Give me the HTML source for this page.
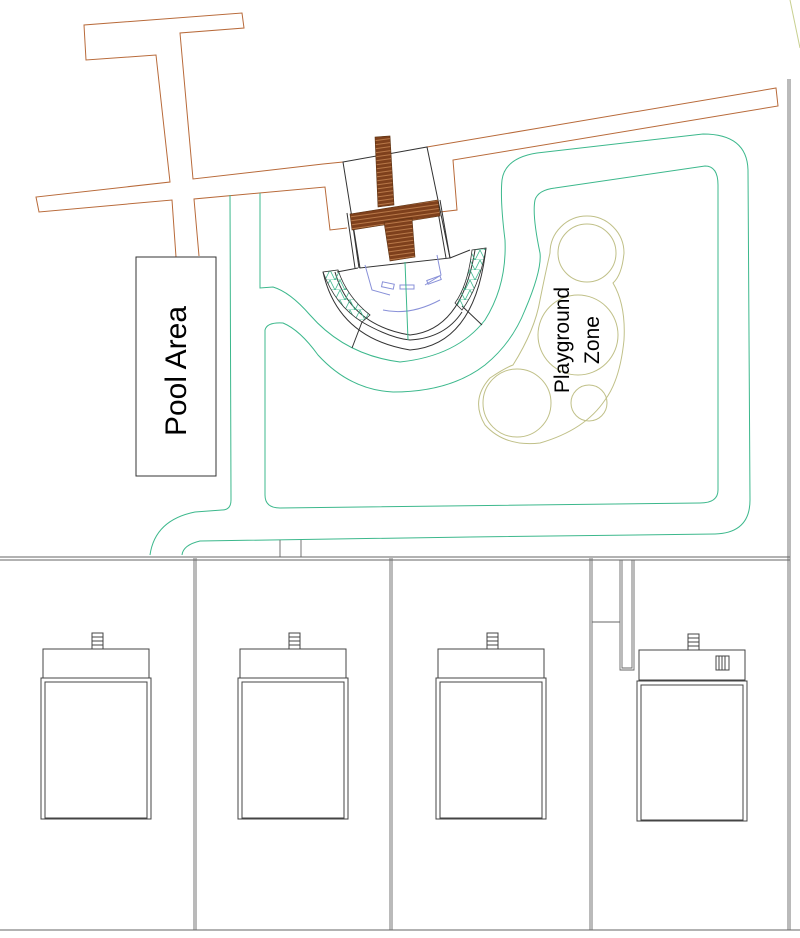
<!DOCTYPE html>
<html><head><meta charset="utf-8"><style>
html,body{margin:0;padding:0;background:#fff;width:800px;height:938px;overflow:hidden}
svg{display:block}
</style></head><body>
<svg width="800" height="938" viewBox="0 0 800 938" xmlns="http://www.w3.org/2000/svg">
<defs>
<pattern id="wood" width="6" height="4" patternUnits="userSpaceOnUse" patternTransform="rotate(-8)">
<rect width="6" height="4" fill="#7e401c"/><rect y="3" width="6" height="1" fill="#b87848"/>
</pattern>
<pattern id="tri" width="10" height="10" patternUnits="userSpaceOnUse">
<path d="M0,0 L5,10 L10,0 M0,10 L10,10" stroke="#3cb88c" stroke-width="0.8" fill="none"/>
</pattern>
</defs>
<g fill="none" stroke="#b86a3a" stroke-width="1">
<polyline points="176,257 172,200 39,212 36,197 170,182 156,55 86,60 84,25 242,13 244,28 180,33 193,179 323,164 343,162"/>
<polyline points="199,256 194,199 325,187 330,230 347,228"/>
<polyline points="427,147 776,88 778,106 453,160 457,210 440,212"/>
</g>
<rect x="136" y="257" width="80" height="219" fill="none" stroke="#333" stroke-width="1"/>
<text x="0" y="0" transform="translate(186,371) rotate(-90)" text-anchor="middle" font-family="Liberation Sans, sans-serif" font-size="30" fill="#000">Pool Area</text>
<g fill="none" stroke="#3cb88c" stroke-width="1">
<path d="M230,195 L231,500 Q231,510 222,510 L195,512 Q155,520 150,555"/>
<path d="M260,193 L260,288 L273,287 Q290,292 310,315 Q345,355 400,362 Q457,356 485,320 Q507,285 505,240 Q500,200 502,180 Q505,158 537,153 L703,134 Q747,134 748,170 L750,500 Q750,533 715,534 L470,537 L200,541 Q183,545 182,555"/>
<path d="M265,330 Q267,322 283,323 Q300,330 318,355 Q350,390 393,392 Q450,392 485,365 Q512,343 525,310 Q542,270 540,253 Q532,215 535,200 Q538,190 555,188 L705,166 Q718,166 718,185 L718,490 Q718,503 700,503 L280,508 Q265,508 265,495 Z"/>
<line x1="790" y1="0" x2="800" y2="48" stroke="#c8d090"/>
</g>
<g fill="none" stroke="#333" stroke-width="1">
<path d="M343,162 L427,147 L450,258 L360,268 Z"/>
<path d="M347,213 L355,268 M351,213 L359,268 M436,200 L446,258 M440,200 L450,258"/>
<path d="M323,272 Q338,338 410,350 Q475,345 486,248"/>
<path d="M335,272 Q350,325 410,335 Q462,330 475,250"/>
<path d="M362,322 Q390,338 410,340 Q445,338 462,312"/>
<path d="M352,348 L362,322 M482,325 L462,306 M337,272 L358,268 M470,250 L450,258"/>
</g>
<path d="M323,272 Q335,305 362,322 L370,315 Q347,297 338,270 Z" fill="url(#tri)" stroke="#333" stroke-width="0.8"/>
<path d="M486,248 Q480,285 462,310 L455,303 Q468,285 472,250 Z" fill="url(#tri)" stroke="#333" stroke-width="0.8"/>
<g fill="none" stroke="#8890d8" stroke-width="1">
<path d="M365,265 L372,290 L390,295 M437,255 L441,275 L425,285"/>
<rect x="382" y="283" width="12" height="5" transform="rotate(12 388 285)"/>
<rect x="400" y="285" width="14" height="4"/>
<rect x="427" y="278" width="14" height="4" transform="rotate(-20 434 280)"/>
<path d="M383,310 Q410,316 440,300"/>
<line x1="405" y1="262" x2="408" y2="340" stroke="#3cb88c"/>
</g>
<polygon points="375,137 390,136 394,205 378,207" fill="url(#wood)" stroke="#5a3010" stroke-width="0.6"/>
<polygon points="350,214 438,200 440,216 352,230" fill="url(#wood)" stroke="#5a3010" stroke-width="0.6"/>
<polygon points="384,222 412,218 415,257 390,261" fill="url(#wood)" stroke="#5a3010" stroke-width="0.6"/>
<g fill="none" stroke="#c0c088" stroke-width="1">
<path d="M550,253 A37,37 0 0 1 624,253 Q622,275 613,283 Q626,305 624,340 Q620,380 605,400 Q585,430 540,443 Q505,447 485,425 Q470,400 490,378 Q505,368 513,365 Q535,330 540,300 Q545,275 550,253 Z"/>
<circle cx="587" cy="253" r="29"/>
<circle cx="578" cy="335" r="40"/>
<circle cx="517" cy="403" r="34"/>
<circle cx="589" cy="403" r="18"/>
</g>
<g font-family="Liberation Sans, sans-serif" font-size="21" fill="#000" text-anchor="middle">
<text transform="translate(569,340) rotate(-90)">Playground</text>
<text transform="translate(599,340) rotate(-90)">Zone</text>
</g>
<g fill="none" stroke="#666" stroke-width="0.9">
<line x1="0" y1="557" x2="790" y2="557"/>
<line x1="0" y1="560" x2="790" y2="560"/>
<line x1="0" y1="930" x2="800" y2="930"/>
<line x1="788" y1="79" x2="788" y2="930"/>
<line x1="790" y1="79" x2="790" y2="930"/>
<line x1="194" y1="558" x2="194" y2="930"/><line x1="196" y1="558" x2="196" y2="930"/>
<line x1="390" y1="558" x2="390" y2="930"/><line x1="392" y1="558" x2="392" y2="930"/>
<line x1="590" y1="558" x2="590" y2="930"/><line x1="592" y1="558" x2="592" y2="930"/>
<line x1="280" y1="540" x2="280" y2="557"/><line x1="301" y1="540" x2="301" y2="557"/>
<path d="M620,560 L620,670 L634,670 L634,560 M622,560 L622,668 L632,668 L632,560"/>
<path d="M592,622 L620,622"/>
</g>
<g fill="none" stroke="#444" stroke-width="1">
<g id="h">
<rect x="92" y="633" width="11" height="16"/>
<path d="M92,637 H103 M92,641 H103 M92,645 H103"/>
<rect x="43" y="649" width="106" height="29"/>
<rect x="41" y="678" width="110" height="141"/>
<rect x="45" y="682" width="102" height="136"/>
</g>
<use href="#h" x="197"/>
<use href="#h" x="395"/>
<g transform="translate(596,1)"><rect x="92" y="633" width="11" height="16"/>
<path d="M92,637 H103 M92,641 H103 M92,645 H103"/>
<rect x="43" y="649" width="106" height="30"/>
<rect x="41" y="680" width="110" height="140"/>
<rect x="45" y="684" width="102" height="135"/>
<rect x="120" y="655" width="13" height="14"/>
<path d="M123,655 V669 M126,655 V669 M129,655 V669"/></g>
</g>
</svg>
</body></html>
